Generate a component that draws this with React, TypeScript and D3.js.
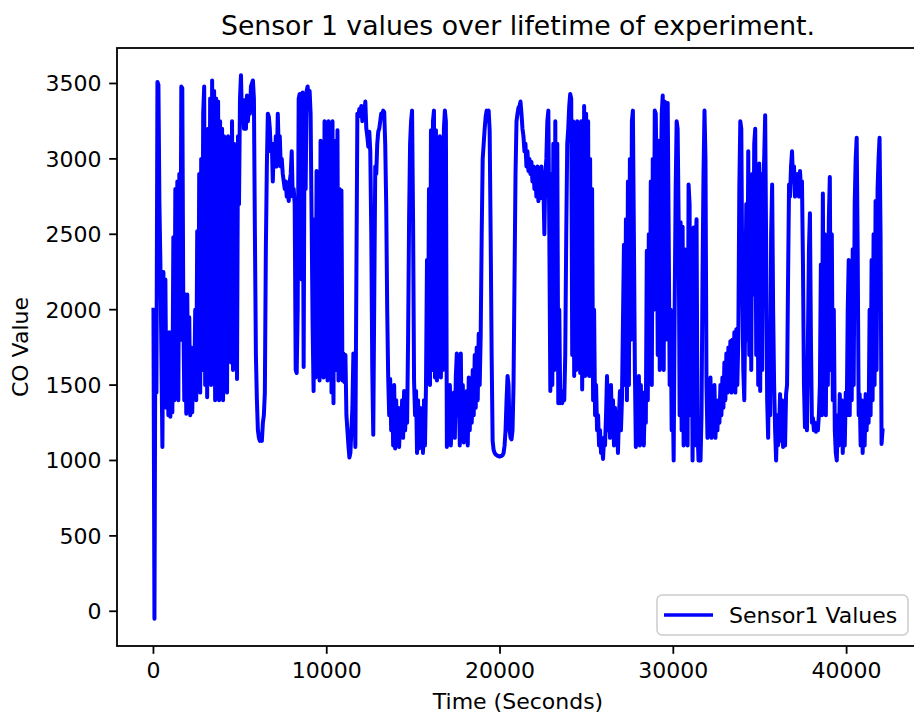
import React from 'react';
import * as d3 from 'd3';

const TITLE = 'Sensor 1 values over lifetime of experiment.';
const X_LABEL = 'Time (Seconds)';
const Y_LABEL = 'CO Value';
const LEGEND_LABEL = 'Sensor1 Values';
const X_TICKS = [0, 10000, 20000, 30000, 40000];
const Y_TICKS = [0, 500, 1000, 1500, 2000, 2500, 3000, 3500];

// sensor logs one reading every SAMPLE_INTERVAL_S seconds, starting at t = 0
const SAMPLE_INTERVAL_S = 57.4;

const sensor1Part1 = [
  2000, -50, 2000, 1450, 3510, 3490, 2700, 2300, 1700, 1090,
  2250, 1500, 2200, 1350, 1800, 1300, 1850, 1290, 1800, 1320,
  2480, 1400, 2800, 1500, 2850, 1400, 2900, 1800, 3480, 3470,
  2000, 1400, 2100, 1310, 2100, 1320, 1950, 1300, 1750, 1320,
  1700, 1500, 2000, 1400, 2520, 1500, 2900, 1450, 3000, 1600,
  3300, 3480, 1500, 3000, 1420, 3200, 1750, 3400, 1500, 3520,
  1650, 3450, 1400, 3400, 1850, 3380, 1400, 3250, 2000, 3200,
  1400, 3150, 1700, 3100, 1450, 3150, 1700, 3100, 1650, 3250,
  1600, 3100, 2000, 3050, 1540, 3150, 2700, 3400, 3555, 3250,
  3380, 3200, 3390, 3200, 3420, 3250, 3400, 3300, 3480, 3500,
  3520, 3400, 2500, 1700, 1400, 1200, 1150, 1130, 1150, 1130,
  1250, 1300, 1450, 2400, 2950, 3300, 3280, 3200, 3050, 3100,
  2850, 3100, 2950, 3150, 2950, 3300, 3050, 3150, 2950, 3000,
  2900, 2850, 2800, 2850, 2750, 2780, 2720, 2850, 2900, 3050,
  2750, 2800, 2700, 1600, 1580, 2000, 3400, 3430,
];

const sensor1Part2 = [
  3430, 2200, 3440, 1620, 3420, 2800, 3450, 3480, 3400, 3450,
  3300, 2600, 1900, 1460, 2600, 1550, 2920, 1600, 2900, 1530,
  3120, 1700, 3050, 1550, 3250, 1800, 3240, 1530, 3250, 1900,
  3200, 1450, 3250, 1380, 3120, 1600, 2200, 3190, 1530, 2800,
  1650, 2790, 1530, 1710, 1520, 1700, 1300, 1200, 1100, 1020,
  1050, 1200, 1350, 1710, 1400, 1090, 2200, 3300, 3280, 3330,
  3300, 3350, 3250, 3320, 3300, 3380, 3200, 3150, 3080, 3180,
  3050, 2500, 1600, 1170, 2100, 2950, 2900, 3100, 3180, 3200,
  3250, 3300, 3280, 3320, 3310, 3100, 2700, 2000, 1550, 1300,
  1540, 1200, 1450, 1100, 1500, 1080, 1400, 1150, 1350, 1090,
  1300, 1200, 1400, 1150, 1460, 1200, 1350, 1250, 1800, 2600,
  3100, 3250, 3320, 2600, 1530, 1300, 1460, 1050, 1400, 1080,
  1350, 1100, 1250, 1050, 1400, 1100, 1500, 2330, 1600, 2800,
  1500, 3190, 1600, 3250, 3320, 1550, 3190, 1530, 3100, 1600,
  3150, 1550, 3000, 1600, 3200, 3320, 3250, 1090, 1400, 1150,
  1500, 1100, 1400, 1200, 1450, 1150, 1560, 1710, 1300, 1450,
  1100,
];

const sensor1Part3 = [
  1710, 1150, 1500, 1120, 1400, 1150, 1460, 1100, 1550, 1200,
  1500, 1250, 1600, 1300, 1700, 1350, 1750, 1400, 1840, 1500,
  1830, 2500, 3000, 3100, 3200, 3280, 3320, 3300, 3320, 3190,
  2500, 1700, 1130, 1070, 1050, 1040, 1035, 1030, 1030, 1025,
  1030, 1030, 1035, 1050, 1100, 1200, 1400, 1560, 1500, 1200,
  1150, 1140, 1200, 1500, 2200, 2900, 3250, 3300, 3340, 3350,
  3380, 3300, 3200, 3150, 3050, 3100, 2950, 3050, 2920, 3000,
  2900, 2980, 2850, 2950, 2800, 2900, 2750, 2950, 2720, 2900,
  2740, 2950, 2750, 2850, 2500, 2900, 3000, 3250, 3320, 2500,
  1460, 2900, 1500, 3100, 1600, 3250, 1700, 3100, 1380, 2000,
  1380, 1450, 1380, 1460, 1400, 1700, 2500, 3100, 3200, 3350,
  3430, 3400, 1700, 3250, 1560, 3200, 1600, 3250, 1700, 3150,
  1580, 3250, 1470, 2200, 3350, 1560, 3300, 1700, 3250, 1560,
  3000, 1560, 2800, 1400, 2000, 1300, 1500, 1200, 1300, 1100,
  1200, 1050, 1100, 1010, 1150, 1100, 1300, 1560, 1200, 1450,
  1150, 1500, 1200, 1400, 1100, 1350, 1200, 1300, 1050,
];

const sensor1Part4 = [
  1300, 1460, 1200, 1400, 1900, 2430, 1500, 2600, 1400, 2850,
  1500, 3000, 1800, 3250, 3320, 2500, 1600, 1090, 1460, 1150,
  1560, 1100, 1500, 1200, 1450, 1100, 1400, 1250, 2390, 1400,
  2500, 1600, 2850, 1500, 3000, 2000, 3320, 3300, 2800, 1700,
  3120, 1600, 2790, 3300, 3420, 1600, 3380, 1800, 3300, 3370,
  2500, 1500, 2000, 1200, 1500, 1000, 2000, 2800, 3250, 3200,
  2600, 1300, 2580, 1200, 2550, 1100, 2400, 1200, 2000, 1100,
  2830, 2700, 1300, 2300, 1000, 2545, 1100, 2400, 2600, 1200,
  1000, 1100, 1000, 1300, 2200, 2900, 3320, 3000, 1500, 1150,
  1400, 1200, 1550, 1150, 1450, 1200, 1500, 1150, 1350, 1200,
  1400, 1250, 1500, 1300, 1550, 1350, 1650, 1400, 1710, 1450,
  1750, 1500, 1790, 1450, 1800, 1500, 1850, 1450, 1870, 1500,
  1800, 2800, 3250, 3200, 2200, 1600, 1400, 2000, 2700, 1800,
  3050, 1700, 2800, 1600, 2900, 2100, 3100, 3200, 1700, 2950,
  1500, 2970, 1460, 2900, 1600, 2800, 3000, 3290, 2400, 1400,
  1150, 1900, 1300, 2500, 2830, 2000, 1500, 1200, 1000, 1300,
  1100,
];

const sensor1Part5 = [
  1200, 1440, 1130, 1400, 1090, 1300, 1100, 1440, 1500, 2200,
  2830, 2750, 2950, 3050, 2850, 2950, 2750, 2900, 2800, 2900,
  2750, 2920, 2800, 2850, 2300, 1500, 1220, 1300, 1200, 1800,
  2400, 2640, 1800, 1250, 1280, 1200, 1250, 1190, 1230, 1200,
  1300, 1500, 2300, 1300, 2770, 1500, 2500, 1300, 2300, 1500,
  2600, 2880, 1600, 2500, 1400, 2000, 1200, 1050, 1000, 1300,
  1100, 1440, 1150, 1400, 1050, 1300, 1100, 1450, 1300, 2000,
  2330, 1300, 2200, 1400, 2400, 1500, 2700, 3000, 3140, 2400,
  1300, 1440, 1100, 1400, 1050, 1350, 1100, 1440, 1200, 1400,
  1250, 2000, 1300, 2330, 1400, 2500, 1500, 2720, 1600, 2800,
  3000, 3140, 2500, 1110, 1200,
];

const sensor1Values = [
  ...sensor1Part1,
  ...sensor1Part2,
  ...sensor1Part3,
  ...sensor1Part4,
  ...sensor1Part5,
];

const sensor1Series: [number, number][] = sensor1Values.map((v, i) => [i * SAMPLE_INTERVAL_S, v]);

const FONT = "'DejaVu Sans', Verdana, sans-serif";
const W = 914;
const H = 717;
const AX_LEFT = 117;
const AX_RIGHT = 919;
const AX_TOP = 48;
const AX_BOTTOM = 646;
const LINE_COLOR = '#0000ff';

function padded(ext: [number, number]): [number, number] {
  const r = ext[1] - ext[0];
  return [ext[0] - 0.05 * r, ext[1] + 0.05 * r];
}

export default function App() {
  const xExt = d3.extent(sensor1Series, (d) => d[0]) as [number, number];
  const yExt = d3.extent(sensor1Series, (d) => d[1]) as [number, number];
  const x = d3.scaleLinear().domain(padded(xExt)).range([AX_LEFT, AX_RIGHT]);
  const y = d3.scaleLinear().domain(padded(yExt)).range([AX_BOTTOM, AX_TOP]);
  const line = d3
    .line<[number, number]>()
    .x((d) => x(d[0]))
    .y((d) => y(d[1]));

  const tickLen = 7.8;
  const tickPad = 7.8;
  const fontSize = 22;
  const legendRight = AX_RIGHT - 11;
  const legendBottom = AX_BOTTOM - 11;
  const legendW = 251;
  const legendH = 40;
  const legendX = legendRight - legendW;
  const legendY = legendBottom - legendH;
  const legendMidY = legendY + legendH / 2;

  return (
    <div style={{ position: 'fixed', left: 0, top: 0, width: W, height: H, overflow: 'hidden', background: '#fff' }}>
      <svg width={W} height={H} style={{ display: 'block' }} fontFamily={FONT}>
        <defs>
          <clipPath id="axclip">
            <rect x={AX_LEFT} y={AX_TOP} width={AX_RIGHT - AX_LEFT} height={AX_BOTTOM - AX_TOP} />
          </clipPath>
        </defs>
        <rect x={0} y={0} width={W} height={H} fill="#fff" />
        <g clipPath="url(#axclip)">
          <path
            d={line(sensor1Series) || ''}
            fill="none"
            stroke={LINE_COLOR}
            strokeWidth={4}
            strokeLinejoin="round"
            strokeLinecap="square"
          />
        </g>
        {/* spines */}
        <rect
          x={AX_LEFT}
          y={AX_TOP}
          width={AX_RIGHT - AX_LEFT}
          height={AX_BOTTOM - AX_TOP}
          fill="none"
          stroke="#000"
          strokeWidth={1.8}
        />
        {/* x ticks */}
        {X_TICKS.map((t) => (
          <g key={'x' + t}>
            <line x1={x(t)} x2={x(t)} y1={AX_BOTTOM} y2={AX_BOTTOM + tickLen} stroke="#000" strokeWidth={1.8} />
            <text
              x={x(t)}
              y={AX_BOTTOM + tickLen + tickPad + 16.2}
              textAnchor="middle"
              fontSize={fontSize}
              fill="#000"
            >
              {String(t)}
            </text>
          </g>
        ))}
        {/* y ticks */}
        {Y_TICKS.map((t) => (
          <g key={'y' + t}>
            <line x1={AX_LEFT - tickLen} x2={AX_LEFT} y1={y(t)} y2={y(t)} stroke="#000" strokeWidth={1.8} />
            <text
              x={AX_LEFT - tickLen - tickPad}
              y={y(t) + 8}
              textAnchor="end"
              fontSize={fontSize}
              fill="#000"
            >
              {String(t)}
            </text>
          </g>
        ))}
        {/* axis labels */}
        <text x={(AX_LEFT + AX_RIGHT) / 2} y={709} textAnchor="middle" fontSize={fontSize} fill="#000">
          {X_LABEL}
        </text>
        <text
          transform={`translate(28, ${(AX_TOP + AX_BOTTOM) / 2}) rotate(-90)`}
          textAnchor="middle"
          fontSize={fontSize}
          fill="#000"
        >
          {Y_LABEL}
        </text>
        {/* title */}
        <text x={(AX_LEFT + AX_RIGHT) / 2} y={35} textAnchor="middle" fontSize={26.7} fill="#000">
          {TITLE}
        </text>
        {/* legend */}
        <rect
          x={legendX}
          y={legendY}
          width={legendW}
          height={legendH}
          rx={5}
          ry={5}
          fill="#fff"
          fillOpacity={0.8}
          stroke="#cccccc"
          strokeWidth={1.5}
        />
        <line
          x1={legendX + 7}
          x2={legendX + 56}
          y1={legendMidY}
          y2={legendMidY}
          stroke={LINE_COLOR}
          strokeWidth={3.3}
        />
        <text x={legendX + 72} y={legendMidY + 8} fontSize={fontSize} fill="#000">
          {LEGEND_LABEL}
        </text>
      </svg>
    </div>
  );
}
